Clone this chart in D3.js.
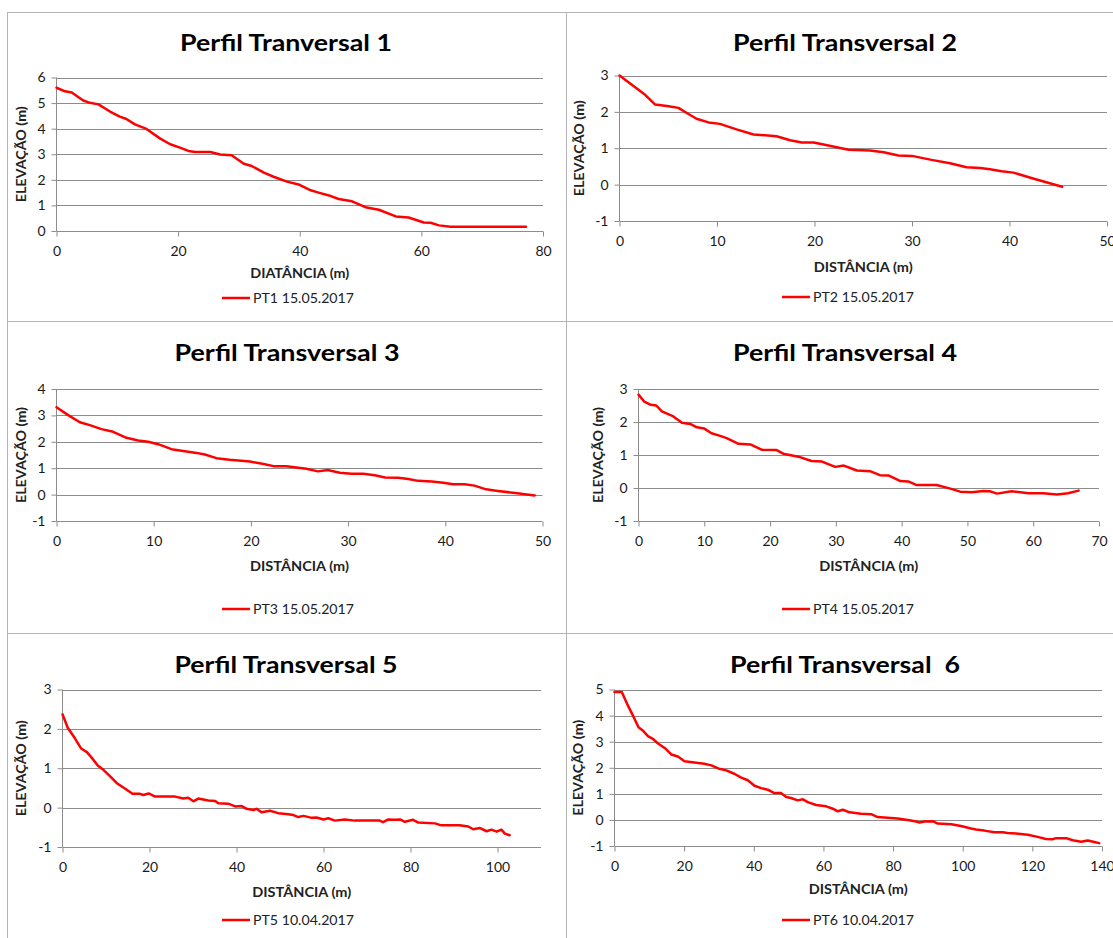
<!DOCTYPE html>
<html>
<head>
<meta charset="utf-8">
<script src="https://cdn.jsdelivr.net/npm/d3@7"></script>
<style>
  body { margin: 0; background: #fff; }
  svg { display: block; }
  text { font-family: Lato, "Open Sans", "Liberation Sans", sans-serif; }
</style>
</head>
<body>
<svg id="chart" width="1113" height="938"></svg>
<script>
// ---- Profile data: distance (m) and elevation (m) ----
const pt1Dist = [0, 1.4, 2.5, 4.4, 5.5, 6.9, 8.8, 10.4, 11.5, 12.9, 14.8, 17.0, 18.7, 20.3, 21.7, 22.8, 25.3, 26.9, 28.8, 30.8, 32.1, 34.1, 35.7, 37.9, 39.8, 41.8, 43.1, 44.8, 46.4, 48.6, 50.8, 53.0, 55.8, 57.9, 60.4, 61.5, 62.9, 64.8, 77.2];
const pt1Elev = [5.6, 5.46, 5.41, 5.1, 5.01, 4.95, 4.67, 4.47, 4.38, 4.17, 3.99, 3.62, 3.39, 3.26, 3.13, 3.09, 3.09, 2.99, 2.96, 2.63, 2.54, 2.28, 2.12, 1.93, 1.82, 1.59, 1.5, 1.39, 1.25, 1.16, 0.93, 0.83, 0.57, 0.53, 0.33, 0.32, 0.22, 0.17, 0.17];

const pt2Dist = [0, 2.63, 3.66, 4.86, 6.05, 6.9, 7.9, 9.13, 10.3, 12.0, 13.75, 16.1, 17.5, 18.7, 19.9, 21.3, 23.5, 25.7, 27.1, 28.6, 30.0, 32.0, 33.9, 35.6, 37.0, 38.0, 39.2, 40.4, 42.5, 45.4];
const pt2Elev = [3.0, 2.47, 2.2, 2.16, 2.11, 1.97, 1.81, 1.71, 1.67, 1.52, 1.38, 1.33, 1.22, 1.16, 1.16, 1.08, 0.96, 0.94, 0.89, 0.8, 0.79, 0.68, 0.59, 0.48, 0.46, 0.42, 0.37, 0.33, 0.16, -0.06];

const pt3Dist = [0, 1.2, 2.4, 3.43, 4.63, 5.83, 7.2, 8.4, 9.43, 10.46, 11.83, 13.03, 14.4, 15.26, 16.46, 17.8, 19.9, 21.3, 22.46, 23.66, 25.7, 26.9, 27.9, 29.15, 30.35, 31.55, 32.75, 33.8, 35.15, 36.2, 37.2, 38.6, 39.8, 40.8, 42.0, 43.0, 44.2, 45.4, 47.2, 49.2];
const pt3Elev = [3.31, 3.01, 2.74, 2.63, 2.48, 2.38, 2.15, 2.05, 2.0, 1.91, 1.72, 1.65, 1.58, 1.52, 1.38, 1.32, 1.25, 1.16, 1.07, 1.07, 0.98, 0.88, 0.93, 0.83, 0.79, 0.79, 0.73, 0.65, 0.64, 0.59, 0.52, 0.5, 0.45, 0.39, 0.39, 0.34, 0.2, 0.14, 0.06, -0.03];

const pt4Dist = [0, 0.86, 1.87, 2.7, 3.55, 5.3, 6.6, 7.85, 8.87, 10.0, 11.1, 12.4, 13.4, 15.2, 17.0, 18.7, 21.0, 22.0, 24.3, 26.3, 27.9, 29.9, 31.2, 33.2, 35.2, 36.7, 38.0, 39.8, 41.0, 42.3, 45.3, 47.4, 48.9, 50.7, 52.4, 53.4, 54.5, 56.7, 59.3, 61.5, 63.6, 65.3, 66.9];
const pt4Elev = [2.83, 2.62, 2.52, 2.5, 2.32, 2.17, 1.98, 1.94, 1.84, 1.8, 1.66, 1.58, 1.51, 1.34, 1.32, 1.16, 1.15, 1.04, 0.95, 0.82, 0.8, 0.64, 0.68, 0.53, 0.51, 0.39, 0.38, 0.21, 0.2, 0.09, 0.09, -0.02, -0.11, -0.13, -0.09, -0.1, -0.17, -0.1, -0.16, -0.16, -0.2, -0.16, -0.08];

const pt5Dist = [0, 1.2, 2.5, 4.3, 5.6, 6.7, 8.1, 9.4, 10.9, 12.5, 14.0, 16.1, 17.8, 18.6, 19.8, 21.3, 25.9, 27.8, 28.9, 30.1, 31.2, 33.5, 35.1, 35.8, 38.1, 39.7, 41.2, 42.3, 43.9, 44.6, 45.8, 47.7, 49.6, 51.9, 53.1, 54.2, 55.4, 57.3, 58.4, 60.0, 61.1, 62.6, 64.9, 67.2, 72.9, 73.7, 74.9, 76.4, 77.6, 78.7, 80.6, 81.8, 85.6, 87.1, 91.3, 93.3, 94.4, 96.0, 97.5, 98.6, 99.8, 100.9, 101.7, 102.8];
const pt5Elev = [2.37, 2.03, 1.82, 1.5, 1.41, 1.27, 1.07, 0.96, 0.8, 0.62, 0.51, 0.35, 0.35, 0.32, 0.36, 0.28, 0.28, 0.23, 0.25, 0.16, 0.23, 0.18, 0.17, 0.11, 0.1, 0.03, 0.04, -0.03, -0.06, -0.03, -0.12, -0.08, -0.14, -0.17, -0.19, -0.24, -0.21, -0.26, -0.25, -0.3, -0.27, -0.33, -0.3, -0.33, -0.33, -0.37, -0.3, -0.31, -0.3, -0.36, -0.31, -0.38, -0.4, -0.45, -0.45, -0.48, -0.55, -0.52, -0.6, -0.56, -0.61, -0.56, -0.66, -0.7];

const pt6Dist = [0, 2.1, 3.8, 5.3, 6.9, 8.1, 9.6, 11.0, 12.4, 14.4, 16.3, 18.2, 20.1, 22.9, 25.8, 27.8, 30.1, 32.1, 34.4, 36.4, 38.3, 40.2, 42.1, 44.0, 45.9, 47.8, 49.3, 50.7, 52.6, 54.1, 55.5, 57.9, 60.8, 62.7, 64.1, 65.6, 67.5, 70.8, 73.7, 75.6, 78.4, 81.3, 84.7, 86.6, 87.6, 89.0, 91.4, 92.8, 96.7, 99.5, 102.4, 103.8, 106.2, 109.1, 111.5, 112.9, 115.3, 118.7, 121.5, 123.9, 125.8, 126.8, 129.7, 131.6, 134.0, 135.9, 137.8, 139.2];
const pt6Elev = [4.9, 4.9, 4.4, 4.0, 3.55, 3.43, 3.21, 3.11, 2.94, 2.76, 2.51, 2.43, 2.25, 2.2, 2.15, 2.09, 1.96, 1.9, 1.77, 1.62, 1.52, 1.31, 1.22, 1.16, 1.03, 1.03, 0.88, 0.84, 0.75, 0.79, 0.68, 0.57, 0.52, 0.43, 0.33, 0.39, 0.29, 0.24, 0.22, 0.11, 0.08, 0.05, -0.01, -0.06, -0.1, -0.06, -0.05, -0.14, -0.17, -0.23, -0.33, -0.37, -0.41, -0.47, -0.47, -0.5, -0.52, -0.57, -0.65, -0.73, -0.74, -0.7, -0.7, -0.78, -0.84, -0.79, -0.85, -0.89];

// ---- Texts and tick values ----
const chartTitles = ["Perfil Tranversal 1", "Perfil Transversal 2", "Perfil Transversal 3", "Perfil Transversal 4", "Perfil Transversal 5", "Perfil Transversal  6"];
const xAxisTitles = ["DIATÂNCIA (m)", "DISTÂNCIA (m)", "DISTÂNCIA (m)", "DISTÂNCIA (m)", "DISTÂNCIA (m)", "DISTÂNCIA (m)"];
const yAxisTitle = "ELEVAÇÃO (m)";
const legendLabels = ["PT1 15.05.2017", "PT2 15.05.2017", "PT3 15.05.2017", "PT4 15.05.2017", "PT5 10.04.2017", "PT6 10.04.2017"];

const xTicks1 = [0, 20, 40, 60, 80];
const yTicks1 = [0, 1, 2, 3, 4, 5, 6];
const xTicks2 = [0, 10, 20, 30, 40, 50];
const yTicks2 = [-1, 0, 1, 2, 3];
const xTicks3 = [0, 10, 20, 30, 40, 50];
const yTicks3 = [-1, 0, 1, 2, 3, 4];
const xTicks4 = [0, 10, 20, 30, 40, 50, 60, 70];
const yTicks4 = [-1, 0, 1, 2, 3];
const xTicks5 = [0, 20, 40, 60, 80, 100];
const yTicks5 = [-1, 0, 1, 2, 3];
const xTicks6 = [0, 20, 40, 60, 80, 100, 120, 140];
const yTicks6 = [-1, 0, 1, 2, 3, 4, 5];

// ---- Panel layout (pixel frames) ----
const panels = [
  { dist: pt1Dist, elev: pt1Elev, xt: xTicks1, yt: yTicks1, xDom: [0, 80],  yDom: [0, 6],
    x0: 56.5, x1: 543, yTop: 77.5, yBot: 231, tx: 286, ty: 51, tw: 212, ytx: 21, xty: 278, ly: 298, lx: 222 },
  { dist: pt2Dist, elev: pt2Elev, xt: xTicks2, yt: yTicks2, xDom: [0, 50],  yDom: [-1, 3],
    x0: 619.5, x1: 1107, yTop: 75.5, yBot: 221, tx: 845, ty: 51, tw: 224, ytx: 579, xty: 272, ly: 297, lx: 782 },
  { dist: pt3Dist, elev: pt3Elev, xt: xTicks3, yt: yTicks3, xDom: [0, 50],  yDom: [-1, 4],
    x0: 56.5, x1: 542.5, yTop: 389, yBot: 521, tx: 287, ty: 361, tw: 225, ytx: 21, xty: 571, ly: 609, lx: 222 },
  { dist: pt4Dist, elev: pt4Elev, xt: xTicks4, yt: yTicks4, xDom: [0, 70],  yDom: [-1, 3],
    x0: 638.5, x1: 1099, yTop: 389, yBot: 521, tx: 845, ty: 361, tw: 224, ytx: 598, xty: 571, ly: 609, lx: 782 },
  { dist: pt5Dist, elev: pt5Elev, xt: xTicks5, yt: yTicks5, xDom: [0, 110], yDom: [-1, 3],
    x0: 62.5, x1: 541, yTop: 689.5, yBot: 847, tx: 286, ty: 673, tw: 223, ytx: 21, xty: 897, ly: 920, lx: 222 },
  { dist: pt6Dist, elev: pt6Elev, xt: xTicks6, yt: yTicks6, xDom: [0, 140], yDom: [-1, 5],
    x0: 614.5, x1: 1102, yTop: 689.5, yBot: 846, tx: 845, ty: 673, tw: 230, ytx: 578, xty: 894, ly: 920, lx: 782 }
];

const svg = d3.select("#chart");
const gridColor = "#8c8c8c";
const frameColor = "#b4b4b4";
const red = "#ff0000";
const plainNumber = d => String(d);   // keeps an ASCII hyphen on negatives

// Cell frames around the six charts
const frame = svg.append("g").attr("stroke", frameColor).attr("stroke-width", 1).attr("fill", "none");
frame.append("line").attr("x1", 7.5).attr("x2", 7.5).attr("y1", 12).attr("y2", 938);
frame.append("line").attr("x1", 7).attr("x2", 1113).attr("y1", 12.5).attr("y2", 12.5);
frame.append("line").attr("x1", 566.5).attr("x2", 566.5).attr("y1", 12).attr("y2", 938);
frame.append("line").attr("x1", 7).attr("x2", 1113).attr("y1", 321.5).attr("y2", 321.5);
frame.append("line").attr("x1", 7).attr("x2", 1113).attr("y1", 633.5).attr("y2", 633.5);

panels.forEach((p, i) => {
  const g = svg.append("g");
  const x = d3.scaleLinear().domain(p.xDom).range([p.x0, p.x1]);
  const y = d3.scaleLinear().domain(p.yDom).range([p.yBot, p.yTop]);

  // Title
  g.append("text")
    .attr("x", p.tx).attr("y", p.ty)
    .attr("text-anchor", "middle")
    .style("white-space", "pre")
    .attr("font-size", 23).attr("font-weight", "bold").attr("fill", "#000")
    .attr("textLength", p.tw).attr("lengthAdjust", "spacingAndGlyphs")
    .text(chartTitles[i]);

  // Horizontal gridlines
  g.append("g").selectAll("line").data(p.yt.filter(v => v !== p.yDom[0]))
    .join("line")
    .attr("x1", p.x0).attr("x2", p.x1)
    .attr("y1", d => Math.round(y(d)) + 0.5).attr("y2", d => Math.round(y(d)) + 0.5)
    .attr("stroke", gridColor).attr("stroke-width", 1);

  // Y axis
  const yAxis = g.append("g")
    .attr("transform", `translate(${p.x0},0)`)
    .call(d3.axisLeft(y).tickValues(p.yt).tickSize(5).tickPadding(6).tickFormat(plainNumber));
  yAxis.select(".domain").attr("stroke", gridColor).attr("d", `M0,${p.yTop}V${p.yBot}`);
  yAxis.selectAll(".tick line").attr("stroke", gridColor);
  yAxis.selectAll(".tick text").attr("font-size", 14).attr("fill", "#1a1a1a")
    .style("font-family", "Lato, 'Open Sans', sans-serif");

  // X axis
  const xAxis = g.append("g")
    .attr("transform", `translate(0,${Math.round(p.yBot) + 0.5})`)
    .call(d3.axisBottom(x).tickValues(p.xt).tickSize(5).tickPadding(10).tickFormat(plainNumber));
  xAxis.select(".domain").attr("stroke", gridColor).attr("d", `M${p.x0},0H${p.x1}`);
  xAxis.selectAll(".tick line").attr("stroke", gridColor);
  xAxis.selectAll(".tick text").attr("font-size", 14).attr("fill", "#1a1a1a")
    .style("font-family", "Lato, 'Open Sans', sans-serif");

  // Axis titles
  g.append("text")
    .attr("x", (p.x0 + p.x1) / 2).attr("y", p.xty)
    .attr("text-anchor", "middle")
    .attr("font-size", 13).attr("font-weight", "bold").attr("fill", "#222")
    .attr("textLength", 99).attr("lengthAdjust", "spacingAndGlyphs")
    .text(xAxisTitles[i]);

  g.append("text")
    .attr("transform", `translate(${p.ytx + 4.5},${(p.yTop + p.yBot) / 2}) rotate(-90)`)
    .attr("text-anchor", "middle")
    .attr("font-size", 13).attr("font-weight", "bold").attr("fill", "#222")
    .attr("textLength", 96).attr("lengthAdjust", "spacingAndGlyphs")
    .text(yAxisTitle);

  // Profile line
  const pts = p.dist.map((d, k) => [d, p.elev[k]]);
  g.append("path")
    .datum(pts)
    .attr("fill", "none")
    .attr("stroke", red).attr("stroke-width", 2.5)
    .attr("stroke-linejoin", "round").attr("stroke-linecap", "round")
    .attr("d", d3.line().x(d => x(d[0])).y(d => y(d[1])));

  // Legend
  g.append("line")
    .attr("x1", p.lx).attr("x2", p.lx + 28)
    .attr("y1", p.ly).attr("y2", p.ly)
    .attr("stroke", red).attr("stroke-width", 2.5);
  g.append("text")
    .attr("x", p.lx + 31).attr("y", p.ly + 5)
    .attr("font-size", 13.5).attr("fill", "#222")
    .attr("textLength", 101).attr("lengthAdjust", "spacingAndGlyphs")
    .text(legendLabels[i]);
});
</script>
</body>
</html>
